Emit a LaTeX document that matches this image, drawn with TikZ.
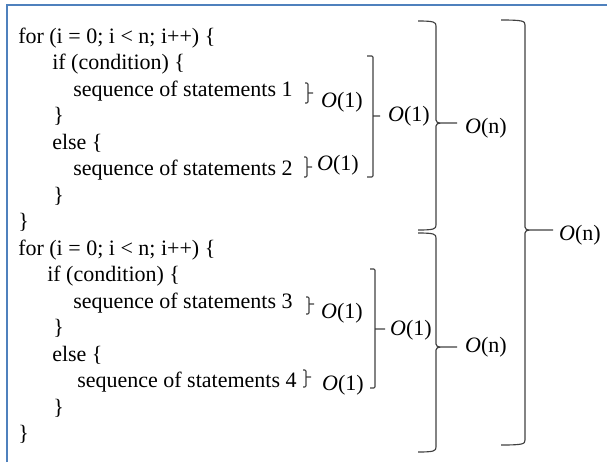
\documentclass[tikz,border=0pt]{standalone}
\usepackage{fontspec}
\setmainfont{Liberation Serif}
\usetikzlibrary{positioning}
\definecolor{frameblue}{RGB}{79,129,189}

\begin{document}
\begin{tikzpicture}[x=0.75pt, y=-0.75pt,
    code/.style={anchor=base west, inner sep=0pt, font=\fontsize{16.5}{19.8}\selectfont},
    cost/.style={inner sep=0pt, font=\fontsize{16.5}{19.8}\selectfont},
    bracket/.style={draw=black!75, line width=0.85pt, rounded corners=0.8pt}]
  \useasboundingbox (0,0) rectangle (607,462);
  \draw[frameblue, line width=0.9pt] (7,462) -- (7,5) -- (607,5);

  % first loop
  \node[code] (for1)  at (18,43)    {for (i = 0; i < n; i++) \{};
  \node[code] (if1)   at (52,69.5)  {if (condition) \{};
  \node[code] (seq1)  at (73,96)    {sequence of statements 1};
  \node[code] (ifc1)  at (53,122.5) {\}};
  \node[code] (else1) at (52,149)   {else \{};
  \node[code] (seq2)  at (73,175.5) {sequence of statements 2};
  \node[code] (elc1)  at (53,202)   {\}};
  \node[code] (forc1) at (18,228.5) {\}};

  % second loop
  \node[code] (for2)  at (18,255)   {for (i = 0; i < n; i++) \{};
  \node[code] (if2)   at (47,281.5) {if (condition) \{};
  \node[code] (seq3)  at (73,308)   {sequence of statements 3};
  \node[code] (ifc2)  at (53,334.5) {\}};
  \node[code] (else2) at (52,361)   {else \{};
  \node[code] (seq4)  at (77,387.5) {sequence of statements 4};
  \node[code] (elc2)  at (53,414)   {\}};
  \node[code] (forc2) at (18,440.5) {\}};

  % costs
  \node[cost] (o1)  at (342,102) {\textit{O}(1)};
  \node[cost] (o2)  at (338,165) {\textit{O}(1)};
  \node[cost] (o3)  at (342,313) {\textit{O}(1)};
  \node[cost] (o4)  at (343,385) {\textit{O}(1)};
  \node[cost] (oi1) at (409,116) {\textit{O}(1)};
  \node[cost] (oi2) at (411,330) {\textit{O}(1)};
  \node[cost] (on1) at (486,128) {\textit{O}(n)};
  \node[cost] (on2) at (486,347) {\textit{O}(n)};
  \node[cost] (on)  at (580,235) {\textit{O}(n)};

  % square brackets
  \foreach \xv/\yt/\yb/\ym/\h/\t in {308/83/103/93/3/5, 307/157/177/167/3/5,
      309/297/314/304/3/5, 306/370/387/377/3/5,
      373/56/177/116/6/7, 375/269/388/329/5/10}
    \draw[bracket] (\xv-\h,\yt) -- (\xv,\yt) -- (\xv,\yb) -- (\xv-\h,\yb)
      (\xv,\ym) -- (\xv+\t,\ym);

  % curly braces
  \foreach \xv/\yt/\yb/\ym/\h/\t in {436/21/230/123/18/21, 436/233/452/347/18/21,
      525/20/445/230/24/28}
    \draw[bracket] (\xv-\h,\yt) .. controls (\xv-2,\yt) and (\xv,\yt+1) .. (\xv,\yt+6)
      -- (\xv,\ym-4) .. controls (\xv,\ym-1) and (\xv+2,\ym) .. (\xv+5,\ym)
      -- (\xv+\t,\ym)
      (\xv+5,\ym) .. controls (\xv+2,\ym) and (\xv,\ym+1) .. (\xv,\ym+4)
      -- (\xv,\yb-6) .. controls (\xv,\yb-1) and (\xv-2,\yb) .. (\xv-\h,\yb);
\end{tikzpicture}
\end{document}
